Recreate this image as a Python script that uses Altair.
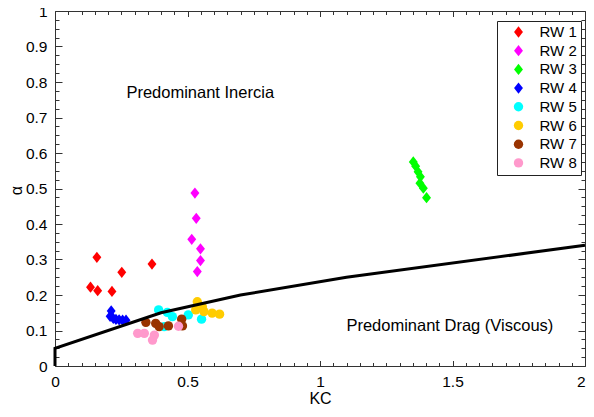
import altair as alt
import pandas as pd

FONT = "Liberation Sans"

series_names = ["RW 1", "RW 2", "RW 3", "RW 4", "RW 5", "RW 6", "RW 7", "RW 8"]
series_colors = ["#ff0000", "#ff00ff", "#00ff00", "#0000ff",
                 "#00ffff", "#ffcc00", "#993300", "#ff99cc"]
DIAMOND = "M0,-1.2L0.95,0L0,1.2L-0.95,0Z"
series_shapes = [DIAMOND, DIAMOND, DIAMOND, DIAMOND,
                 "circle", "circle", "circle", "circle"]

rw1_kc = [0.134, 0.158, 0.161, 0.215, 0.252, 0.366]
rw1_a = [0.222, 0.306, 0.212, 0.210, 0.264, 0.287]
rw2_kc = [0.528, 0.533, 0.516, 0.549, 0.549, 0.537]
rw2_a = [0.487, 0.416, 0.357, 0.330, 0.297, 0.266]
rw3_kc = [1.352, 1.361, 1.370, 1.379, 1.377, 1.390, 1.402]
rw3_a = [0.575, 0.563, 0.547, 0.533, 0.515, 0.501, 0.474]
rw4_kc = [0.212, 0.208, 0.220, 0.230, 0.242, 0.255, 0.268]
rw4_a = [0.155, 0.140, 0.134, 0.131, 0.130, 0.129, 0.129]
rw5_kc = [0.391, 0.424, 0.443, 0.412, 0.503, 0.553]
rw5_a = [0.158, 0.151, 0.139, 0.111, 0.144, 0.132]
rw6_kc = [0.537, 0.556, 0.531, 0.562, 0.593, 0.621]
rw6_a = [0.181, 0.167, 0.158, 0.153, 0.149, 0.146]
rw7_kc = [0.343, 0.380, 0.393, 0.428, 0.478, 0.481]
rw7_a = [0.123, 0.120, 0.111, 0.113, 0.132, 0.113]
rw8_kc = [0.312, 0.337, 0.375, 0.368, 0.466]
rw8_a = [0.092, 0.092, 0.087, 0.073, 0.112]

curve_kc = [0.0, 0.0, 0.4, 0.7, 1.1, 2.0]
curve_a = [0.0, 0.05, 0.15, 0.20, 0.25, 0.34]

annot_text = ["Predominant Inercia", "Predominant Drag (Viscous)"]
annot_kc = [0.548, 1.490]
annot_a = [0.769, 0.113]

x_major = [0, 0.5, 1, 1.5, 2]
x_minor = [round(0.05 * i, 2) for i in range(41) if i % 10]
y_major = [round(0.1 * i, 1) for i in range(11)]
y_minor = [round(0.025 * i, 3) for i in range(41) if i % 4]

all_kc = [rw1_kc, rw2_kc, rw3_kc, rw4_kc, rw5_kc, rw6_kc, rw7_kc, rw8_kc]
all_a = [rw1_a, rw2_a, rw3_a, rw4_a, rw5_a, rw6_a, rw7_a, rw8_a]
rows = []
for name, kcs, als in zip(series_names, all_kc, all_a):
    for k, a in zip(kcs, als):
        rows.append({"series": name, "KC": k, "alpha": a})
pts = pd.DataFrame(rows)
curve = pd.DataFrame({"KC": curve_kc, "alpha": curve_a,
                      "idx": list(range(len(curve_kc)))})
annot = pd.DataFrame({"KC": annot_kc, "alpha": annot_a, "label": annot_text})

xs = alt.Scale(domain=[0, 2], nice=False, zero=False)
ys = alt.Scale(domain=[0, 1], nice=False, zero=False)

TICK = "#333333"


def tick_axis(orient, values, size):
    return alt.Axis(orient=orient, values=values, labels=False, title=None,
                    domain=False, grid=False, ticks=True,
                    tickSize={"expr": str(-size)}, tickColor=TICK, tickWidth=1)


legend = alt.Legend(title=None, orient="none", legendX=442, legendY=10,
                    strokeColor="#222222", fillColor="white", padding=3.5,
                    rowPadding=2.7, symbolOffset=10.5, labelOffset=13.5,
                    labelFont=FONT, labelFontSize=15, labelColor="black",
                    symbolSize=88, symbolStrokeWidth=0)

points = alt.Chart(pts).mark_point(filled=True, opacity=1, size=88).encode(
    x=alt.X("KC:Q", scale=xs, axis=tick_axis("top", x_major, 5.5)),
    y=alt.Y("alpha:Q", scale=ys, axis=tick_axis("right", y_major, 7)),
    color=alt.Color("series:N", scale=alt.Scale(domain=series_names, range=series_colors),
                    legend=legend),
    shape=alt.Shape("series:N", scale=alt.Scale(domain=series_names, range=series_shapes),
                    legend=legend),
)

minor1 = alt.Chart(curve).mark_point(opacity=0).encode(
    x=alt.X("KC:Q", scale=xs, axis=tick_axis("bottom", x_minor, 3.5)),
    y=alt.Y("alpha:Q", scale=ys, axis=tick_axis("left", y_minor, 4)),
)
minor2 = alt.Chart(curve).mark_point(opacity=0).encode(
    x=alt.X("KC:Q", scale=xs, axis=tick_axis("top", x_minor, 3.5)),
    y=alt.Y("alpha:Q", scale=ys, axis=tick_axis("right", y_minor, 4)),
)

texts = alt.Chart(annot).mark_text(font=FONT, fontSize=16.5, color="black",
                                   align="center", baseline="middle").encode(
    x=alt.X("KC:Q", scale=xs, axis=None),
    y=alt.Y("alpha:Q", scale=ys, axis=None),
    text="label:N",
)

line = alt.Chart(curve).mark_line(color="black", strokeWidth=3).encode(
    x=alt.X("KC:Q", scale=xs, axis=alt.Axis(
        orient="bottom", values=x_major, format="~g", domain=False, grid=False,
        tickSize={"expr": "-5.5"}, tickColor=TICK, tickWidth=1,
        labelAlign={"condition": {"test": "datum.value >= 2", "value": "right"},
                    "value": "center"},
        labelPadding=14, labelFont=FONT, labelFontSize=15.5, labelColor="black",
        title="KC", titleFont=FONT, titleFontSize=16, titleFontWeight="normal",
        titleColor="black", titleY=32, titleBaseline="middle")),
    y=alt.Y("alpha:Q", scale=ys, axis=alt.Axis(
        orient="left", values=y_major, format="~g", domain=False, grid=False,
        tickSize={"expr": "-7"}, tickColor=TICK, tickWidth=1,
        labelPadding=15, labelFont=FONT, labelFontSize=15.5, labelColor="black",
        title="α", titleFont=FONT, titleFontSize=16, titleFontWeight="normal",
        titleColor="black", titleX=-39, titleY=179, titleBaseline="middle")),
    order="idx:Q",
)

chart = alt.layer(points, minor1, minor2, texts, line).resolve_axis(
    x="independent", y="independent"
).properties(
    width=530, height=355,
    autosize=alt.AutoSizeParams(type="none"),
    padding={"left": 47, "top": 3, "right": 1, "bottom": 39},
    background="white",
).configure_view(stroke="#333333", strokeWidth=1)

chart.save("out.html", embed_options={"renderer": "svg", "actions": False})
